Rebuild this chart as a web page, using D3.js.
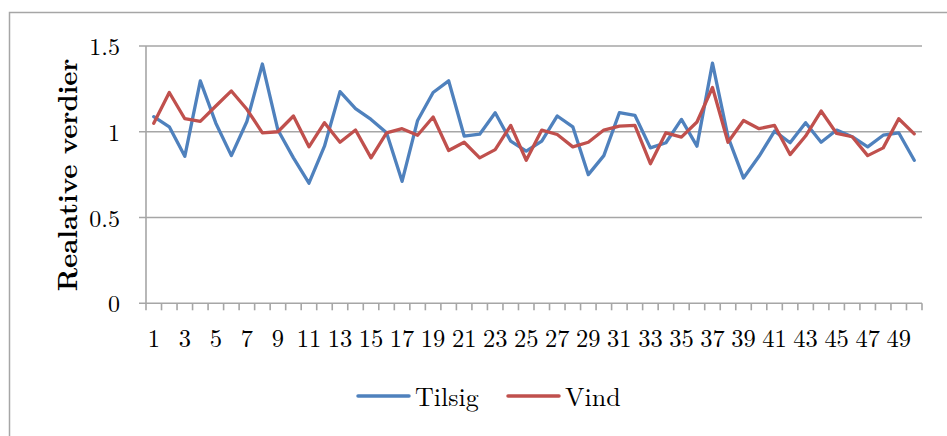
<!DOCTYPE html>
<html>
<head>
<meta charset="utf-8">
<script src="https://cdn.jsdelivr.net/npm/d3@7"></script>
<style>
  html, body { margin: 0; padding: 0; background: #fff; }
  svg { display: block; }
</style>
</head>
<body>
<svg id="chart" width="947" height="436"></svg>
<script>
// Categories (periods 1..50)
const categories = [1,2,3,4,5,6,7,8,9,10,11,12,13,14,15,16,17,18,19,20,
  21,22,23,24,25,26,27,28,29,30,31,32,33,34,35,36,37,38,39,40,
  41,42,43,44,45,46,47,48,49,50];

// Relative values per series
const tilsig = [1.088,1.029,0.857,1.297,1.05,0.861,1.06,1.395,1.01,0.848,
  0.70,0.916,1.234,1.135,1.072,0.994,0.711,1.066,1.229,1.297,
  0.975,0.986,1.111,0.945,0.887,0.945,1.092,1.029,0.75,0.861,
  1.111,1.096,0.906,0.936,1.072,0.916,1.40,0.97,0.73,0.857,
  1.004,0.936,1.053,0.939,1.01,0.971,0.912,0.98,0.994,0.834];

const vind = [1.049,1.229,1.076,1.061,1.15,1.238,1.131,0.994,1.0,1.092,
  0.912,1.053,0.939,1.01,0.848,0.994,1.018,0.98,1.086,0.891,
  0.939,0.848,0.896,1.037,0.834,1.01,0.984,0.912,0.939,1.01,
  1.033,1.037,0.814,0.994,0.969,1.057,1.258,0.939,1.066,1.018,
  1.037,0.867,0.975,1.121,0.99,0.971,0.861,0.906,1.076,0.988];

const yTicks = [0, 0.5, 1, 1.5];
const yTickLabels = ["0", "0.5", "1", "1.5"];
const xTickLabels = categories.filter(c => c % 2 === 1);

const series = [
  { name: "Tilsig", values: tilsig, color: "#4F81BD" },
  { name: "Vind", values: vind, color: "#C0504D" }
];

const serif = "Latin Modern Roman";
const svg = d3.select("#chart");
const gridColor = "#a6a6a6";

// Outer chart frame
svg.append("rect")
  .attr("x", 9.5).attr("y", 12.5)
  .attr("width", 1000).attr("height", 1000)
  .attr("fill", "none").attr("stroke", "#a6a6a6").attr("stroke-width", 1.5);

const plot = { left: 146, right: 922, top: 46, bottom: 303.3 };

const x = d3.scaleBand()
  .domain(categories)
  .range([plot.left, plot.right])
  .paddingInner(0).paddingOuter(0);

const y = d3.scaleLinear()
  .domain([0, 1.5])
  .range([plot.bottom, plot.top]);

const cx = c => x(c) + x.bandwidth() / 2;

// Horizontal gridlines with short left ticks
svg.append("g").selectAll("line")
  .data(yTicks)
  .join("line")
  .attr("x1", plot.left - 7).attr("x2", plot.right)
  .attr("y1", d => y(d)).attr("y2", d => y(d))
  .attr("stroke", gridColor).attr("stroke-width", 1.6);

// Vertical value axis
svg.append("line")
  .attr("x1", plot.left).attr("x2", plot.left)
  .attr("y1", plot.top).attr("y2", plot.bottom)
  .attr("stroke", gridColor).attr("stroke-width", 1.6);

// Category tick marks at band boundaries
const boundaries = categories.map(c => x(c)).concat([plot.right]);
svg.append("g").selectAll("line")
  .data(boundaries)
  .join("line")
  .attr("x1", d => d).attr("x2", d => d)
  .attr("y1", plot.bottom).attr("y2", plot.bottom + 7)
  .attr("stroke", gridColor).attr("stroke-width", 1.6);

// Value tick labels
svg.append("g").selectAll("text")
  .data(yTicks)
  .join("text")
  .attr("x", 120)
  .attr("y", d => y(d) + 9)
  .attr("text-anchor", "end")
  .attr("font-family", serif)
  .attr("font-size", 24)
  .text((d, i) => yTickLabels[i]);

// Category labels (odd periods)
svg.append("g").selectAll("text")
  .data(xTickLabels)
  .join("text")
  .attr("x", d => cx(d))
  .attr("y", 347)
  .attr("text-anchor", "middle")
  .attr("font-family", serif)
  .attr("font-size", 24.5)
  .text(d => d);

// Axis title
svg.append("text")
  .attr("transform", "translate(77,175) rotate(-90)")
  .attr("text-anchor", "middle")
  .attr("font-family", serif)
  .attr("font-size", 27)
  .attr("font-weight", "bold")
  .text("Realative verdier");

// Series lines
const line = d3.line()
  .x((d, i) => cx(categories[i]))
  .y(d => y(d));

svg.append("g").selectAll("path")
  .data(series)
  .join("path")
  .attr("d", s => line(s.values))
  .attr("fill", "none")
  .attr("stroke", s => s.color)
  .attr("stroke-width", 3.3)
  .attr("stroke-linejoin", "round")
  .attr("stroke-linecap", "round");

// Legend
const legendPos = [{ x1: 358, x2: 409, tx: 415 }, { x1: 508, x2: 559, tx: 565 }];
const lg = svg.append("g").selectAll("g")
  .data(series)
  .join("g");
lg.append("line")
  .attr("x1", (d, i) => legendPos[i].x1).attr("x2", (d, i) => legendPos[i].x2)
  .attr("y1", 396).attr("y2", 396)
  .attr("stroke", d => d.color).attr("stroke-width", 3.5)
  .attr("stroke-linecap", "round");
lg.append("text")
  .attr("x", (d, i) => legendPos[i].tx)
  .attr("y", 406)
  .attr("font-family", serif)
  .attr("font-size", 26)
  .text(d => d.name);
</script>
</body>
</html>
